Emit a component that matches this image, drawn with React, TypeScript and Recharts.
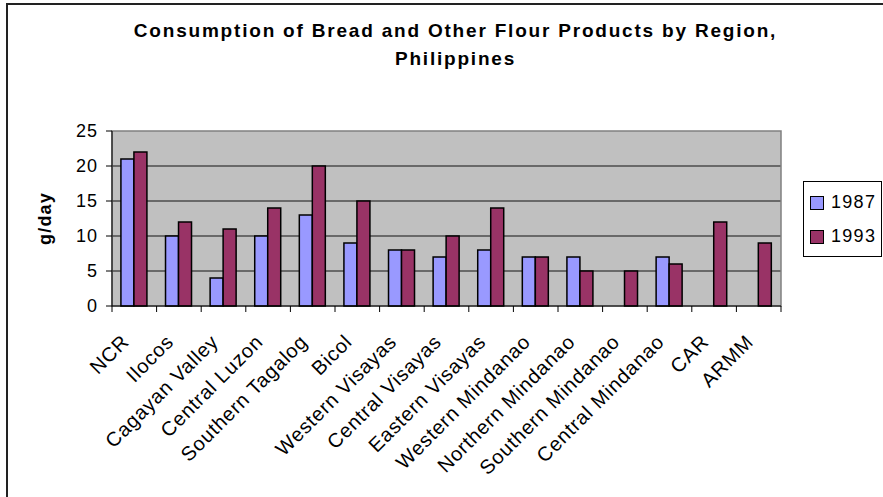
import React from 'react';
import { BarChart, Bar, XAxis, YAxis, CartesianGrid, ReferenceArea, Legend } from 'recharts';

const regions = [
  'NCR', 'Ilocos', 'Cagayan Valley', 'Central Luzon', 'Southern Tagalog', 'Bicol',
  'Western Visayas', 'Central Visayas', 'Eastern Visayas', 'Western Mindanao',
  'Northern Mindanao', 'Southern Mindanao', 'Central Mindanao', 'CAR', 'ARMM',
];
const values1987 = [21, 10, 4, 10, 13, 9, 8, 7, 8, 7, 7, null, 7, null, null];
const values1993 = [22, 12, 11, 14, 20, 15, 8, 10, 14, 7, 5, 5, 6, 12, 9];
const seriesNames = ['1987', '1993'];
const seriesColors = ['#9999FF', '#993366'];
const yTicks = [0, 5, 10, 15, 20, 25];
const titleLines = ['Consumption of Bread and Other Flour Products by Region,', 'Philippines'];
const yLabel = 'g/day';

const data = regions.map((r, i) => ({ region: r, s1987: values1987[i], s1993: values1993[i] }));

const W = 883;
const H = 497;
const M = { top: 131, right: 102, bottom: 71, left: 52 };
const Y_AXIS_W = 60;
const X_AXIS_H = 120;
const PLOT_W = W - M.left - M.right - Y_AXIS_W;
const PLOT_BOTTOM = H - M.bottom - X_AXIS_H;
const FONT = '"Liberation Sans", Arial, sans-serif';

const XTick = (props: any) => {
  const { x, payload } = props;
  const idx = payload?.index ?? props.index ?? 0;
  const bw = PLOT_W / regions.length;
  const tx = x - 14;
  const ty = PLOT_BOTTOM + 27;
  return (
    <g>
      <line x1={x - bw / 2} x2={x - bw / 2} y1={PLOT_BOTTOM} y2={PLOT_BOTTOM + 6} stroke="#000" />
      {idx === regions.length - 1 && (
        <line x1={x + bw / 2} x2={x + bw / 2} y1={PLOT_BOTTOM} y2={PLOT_BOTTOM + 6} stroke="#000" />
      )}
      <text
        x={tx}
        y={ty}
        dy="0.71em"
        textAnchor="end"
        transform={`rotate(-45 ${tx} ${ty})`}
        fill="#000"
        style={{ fontSize: 20, letterSpacing: 0.8, fontFamily: FONT }}
      >
        {payload.value}
      </text>
    </g>
  );
};

const LegendBox = () => (
  <div
    style={{
      position: 'relative',
      width: 79,
      height: 76,
      border: '1px solid #000',
      background: '#fff',
      boxSizing: 'border-box',
      fontFamily: FONT,
    }}
  >
    {seriesNames.map((n, i) => (
      <div key={n}>
        <div
          style={{
            position: 'absolute',
            left: 6,
            top: 14 + i * 34,
            width: 14,
            height: 14,
            background: seriesColors[i],
            border: '1.5px solid #000',
            boxSizing: 'border-box',
          }}
        />
        <div
          style={{
            position: 'absolute',
            left: 27,
            top: 10 + i * 34,
            fontSize: 18,
            lineHeight: '20px',
            letterSpacing: 1.3,
            color: '#000',
          }}
        >
          {n}
        </div>
      </div>
    ))}
  </div>
);

export default function App() {
  return (
    <div
      style={{
        position: 'fixed',
        left: 0,
        top: 0,
        width: W,
        height: H,
        overflow: 'hidden',
        background: '#fff',
        fontFamily: FONT,
      }}
    >
      <div
        style={{
          position: 'absolute',
          left: 6,
          top: 3,
          width: 920,
          height: 540,
          border: '2px solid #222',
          boxSizing: 'border-box',
        }}
      />
      {titleLines.map((t, i) => (
        <div
          key={t}
          style={{
            position: 'absolute',
            left: 0,
            width: 911,
            top: 21 + i * 28,
            textAlign: 'center',
            fontSize: 19,
            lineHeight: '20px',
            fontWeight: 'bold',
            letterSpacing: 1.8,
            color: '#000',
          }}
        >
          {t}
        </div>
      ))}
      <div style={{ position: 'absolute', left: 0, top: 0 }}>
        <BarChart
          width={W}
          height={H}
          data={data}
          margin={M}
          barCategoryGap="20%"
          barGap={0}
        >
          <CartesianGrid
            vertical={false}
            horizontalValues={[5, 10, 15, 20]}
            stroke="#000"
            strokeOpacity={0.9}
            fill="#C0C0C0"
            fillOpacity={1}
          />
          <ReferenceArea y1={0} y2={25} fill="none" stroke="#808080" strokeWidth={1.5} ifOverflow="visible" />
          <XAxis
            dataKey="region"
            interval={0}
            height={X_AXIS_H}
            tickLine={false}
            axisLine={{ stroke: '#000' }}
            tick={<XTick />}
          />
          <YAxis
            width={Y_AXIS_W}
            domain={[0, 25]}
            ticks={yTicks}
            interval={0}
            tickSize={6}
            tickMargin={8}
            axisLine={{ stroke: '#000' }}
            tickLine={{ stroke: '#000' }}
            tick={{ fill: '#000', fontSize: 18, letterSpacing: 1 } as any}
            label={{
              value: yLabel,
              angle: -90,
              position: 'insideLeft',
              offset: -7,
              style: { textAnchor: 'middle', fontWeight: 'bold', fontSize: 18, fill: '#000', letterSpacing: 1.2 },
            }}
          />
          <Legend
            layout="horizontal"
            verticalAlign="middle"
            align="center"
            content={() => <LegendBox />}
            wrapperStyle={{ left: 803, top: 181, width: 79, height: 76 }}
          />
          {seriesNames.map((n, i) => (
            <Bar
              key={n}
              dataKey={`s${n}`}
              name={n}
              fill={seriesColors[i]}
              stroke="#000"
              strokeWidth={1.5}
              isAnimationActive={false}
            />
          ))}
        </BarChart>
      </div>
    </div>
  );
}
